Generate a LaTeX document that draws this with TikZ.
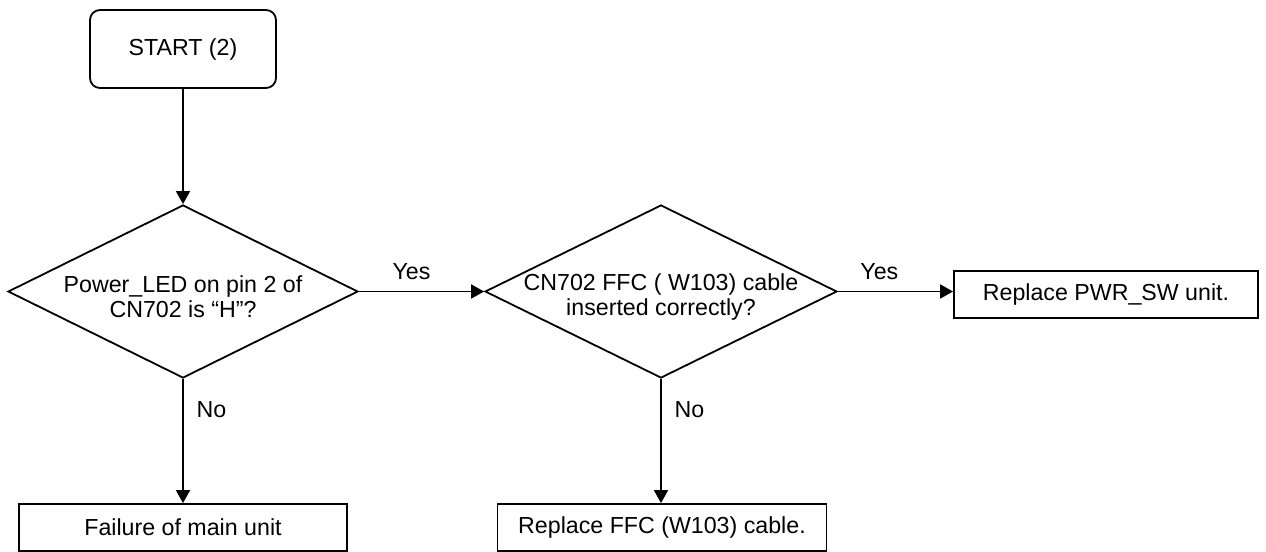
\documentclass[tikz,border=0pt]{standalone}
\usepackage{fontspec}
\setmainfont{Liberation Sans}
\usetikzlibrary{positioning,shapes.geometric,arrows.meta}

\newcommand{\lowtop}{\rule{0pt}{13.5pt}}

\begin{document}
\begin{tikzpicture}[x=0.5pt,y=-0.5pt,line width=0.9pt,
  box/.style={draw,rectangle,minimum width=#1,minimum height=23.5pt,inner sep=0pt},
  test/.style={draw,diamond,aspect=2,inner sep=-4pt,minimum width=#1,minimum height=86.5pt,align=center},
  flow/.style={-{Triangle[length=6.5pt,width=7pt]}}]
\tikzstyle{every node}=[font=\fontsize{11.6}{12.5}\selectfont]
\useasboundingbox (0,0) rectangle (1266,552);
% boxes and tests
\node[draw,rounded corners=5pt,minimum width=93pt,minimum height=39pt] (start) at (183,49) {START (2)};
\node[test=175pt] (led) at (183,291.5) {\lowtop Power\_LED on pin 2 of\\CN702 is “H”?};
\node[test=176pt] (ffc) at (661,291.5) {\lowtop CN702 FFC ( W103) cable\\inserted correctly?};
\node[box=152pt] (pwr) at (1106,294.5) {Replace PWR\_SW unit.};
\node[box=164pt] (main) at (183,527.5) {Failure of main unit};
\node[box=164.5pt] (cable) at (662,527.5) {Replace FFC (W103) cable.};
% connectors
\draw[flow] (start) -- (led);
\draw[flow] (led.east) -- node[above=2pt,pos=0.42] {Yes} (ffc.west);
\draw[flow] (ffc.east) -- node[above=2pt,pos=0.36] {Yes} (ffc.east -| pwr.west);
\draw[flow] (led.south) -- node[right=3pt,pos=0.25] {No} (main.north);
\draw[flow] (ffc.south) -- node[right=3pt,pos=0.25] {No} (ffc.south |- cable.north);
\end{tikzpicture}
\end{document}
